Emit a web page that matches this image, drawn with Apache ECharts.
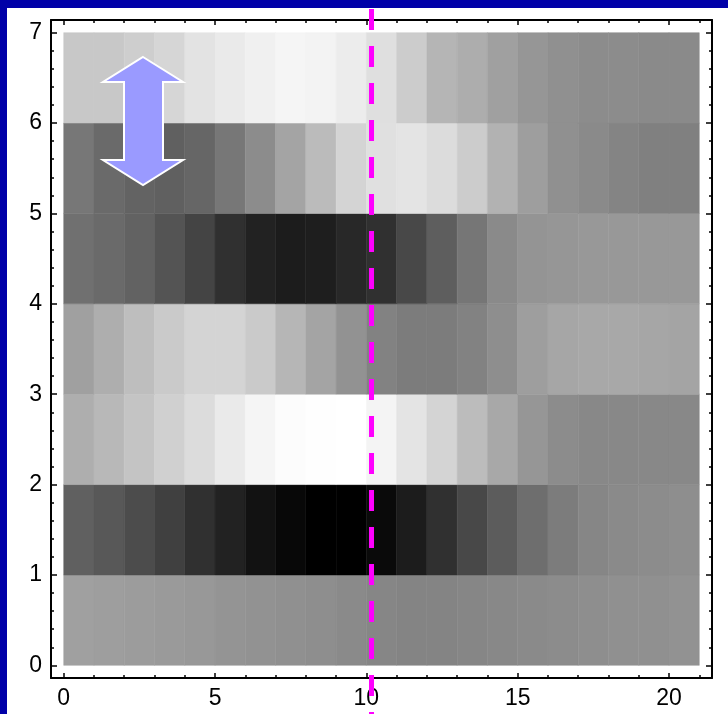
<!DOCTYPE html>
<html>
<head>
<meta charset="utf-8">
<script src="https://cdn.jsdelivr.net/npm/echarts@6/dist/echarts.min.js"></script>
<style>
html,body{margin:0;padding:0;background:#0000a8;}
#chart{width:728px;height:714px;}
</style>
</head>
<body>
<div id="chart"></div>
<script>
// ---- data: gray level (0 = black, 255 = white) of each cell, x = 0..20 ----
const xCells = [0,1,2,3,4,5,6,7,8,9,10,11,12,13,14,15,16,17,18,19,20];
const rowY0 = [160,158,156,154,152,148,146,144,142,138,134,132,132,134,136,138,140,142,144,144,146];
const rowY1 = [96,88,76,64,48,34,18,8,0,0,10,28,48,72,92,110,124,134,138,140,142];
const rowY2 = [174,184,196,208,220,234,245,252,254,255,244,228,212,188,168,150,140,136,136,136,136];
const rowY3 = [160,174,190,202,212,212,202,182,164,146,130,124,124,130,142,158,166,168,168,166,164];
const rowY4 = [112,106,98,84,68,48,34,28,30,40,48,72,94,118,138,148,150,152,152,152,152];
const rowY5 = [119,106,99,96,102,119,140,164,187,212,224,228,220,204,178,158,144,138,132,128,128];
const rowY6 = [200,200,206,214,227,234,240,245,243,236,223,204,181,173,160,150,144,140,140,138,138];
const rows = [rowY0,rowY1,rowY2,rowY3,rowY4,rowY5,rowY6];
const cutX = [10.17];               // position of the dashed marker line
const xMajor = [0,5,10,15,20];
const xMinor = [0,1,2,3,4,5,6,7,8,9,10,11,12,13,14,15,16,17,18,19,20,21];
const yMajor = [0,1,2,3,4,5,6,7];
const yMinor = [];
for (let i = 0; i <= 35; i++) yMinor.push(+(i * 0.2).toFixed(1));

const cells = [];
rows.forEach((row, r) => row.forEach((v, c) => cells.push([xCells[c], r, v])));

const XMIN = -0.42, XMAX = 21.42, YMIN = -0.14, YMAX = 7.14;
const FONT = 'Liberation Sans';

function mkX(pos, ticks, len, labels, line) {
  return {
    type: 'value', position: pos, min: XMIN, max: XMAX,
    axisLine: {show: line, onZero: false, lineStyle: {color: '#000', width: 2}},
    axisTick: {show: true, inside: true, length: len, customValues: ticks, lineStyle: {color: '#000', width: 1.5}},
    axisLabel: labels ? {show: true, customValues: ticks, color: '#000', fontFamily: FONT, fontSize: 23, margin: 9} : {show: false},
    splitLine: {show: false}
  };
}
function mkY(pos, ticks, len, labels, line) {
  return {
    type: 'value', position: pos, min: YMIN, max: YMAX,
    axisLine: {show: line, onZero: false, lineStyle: {color: '#000', width: 2}},
    axisTick: {show: true, inside: true, length: len, customValues: ticks, lineStyle: {color: '#000', width: 1.5}},
    axisLabel: labels ? {show: true, customValues: ticks, color: '#000', fontFamily: FONT, fontSize: 23, margin: 9} : {show: false},
    splitLine: {show: false}
  };
}

const chart = echarts.init(document.getElementById('chart'), null, {renderer: 'canvas'});
chart.setOption({
  backgroundColor: '#0000a8',
  animation: false,
  grid: {left: 51, right: 16, top: 20, bottom: 36, containLabel: false},
  xAxis: [
    mkX('bottom', xMajor, 5, true, true),
    mkX('bottom', xMinor, 3, false, false),
    mkX('top', xMajor, 5, false, true),
    mkX('top', xMinor, 3, false, false)
  ],
  yAxis: [
    mkY('left', yMajor, 6, true, true),
    mkY('left', yMinor, 3, false, false),
    mkY('right', yMajor, 6, false, true),
    mkY('right', yMinor, 3, false, false)
  ],
  visualMap: {
    type: 'continuous', show: false, min: 0, max: 255, dimension: 2, seriesIndex: 0,
    inRange: {color: ['#000000', '#ffffff']}
  },
  graphic: [
    {type: 'rect', z: -10, shape: {x: 7, y: 8, width: 721, height: 706}, style: {fill: '#ffffff'}},
    {type: 'polygon', z: 100,
     shape: {points: [[143,57],[183,82],[163,82],[163,160],[183,160],[143,185],[103,160],[124,160],[124,82],[103,82]]},
     style: {fill: '#9a9aff', stroke: '#ffffff', lineWidth: 2}}
  ],
  series: [
    {
      type: 'custom', xAxisIndex: 0, yAxisIndex: 0, data: cells,
      renderItem: function (params, api) {
        const p0 = api.coord([api.value(0), api.value(1) + 1]);
        const p1 = api.coord([api.value(0) + 1, api.value(1)]);
        return {type: 'rect',
          shape: {x: p0[0], y: p0[1], width: p1[0] - p0[0], height: p1[1] - p0[1]},
          style: {fill: api.visual('color'), stroke: api.visual('color'), lineWidth: 0.5}};
      }
    },
    {
      type: 'custom', xAxisIndex: 0, yAxisIndex: 0, z: 20, clip: false,
      data: cutX.map(v => [v, 0]),
      renderItem: function (params, api) {
        const x = api.coord([api.value(0), 0])[0];
        return {type: 'line', shape: {x1: x, y1: 9, x2: x, y2: api.getHeight()},
          style: {stroke: '#ff00ff', lineWidth: 5, lineDash: [21, 16]}};
      }
    }
  ]
});
</script>
</body>
</html>
